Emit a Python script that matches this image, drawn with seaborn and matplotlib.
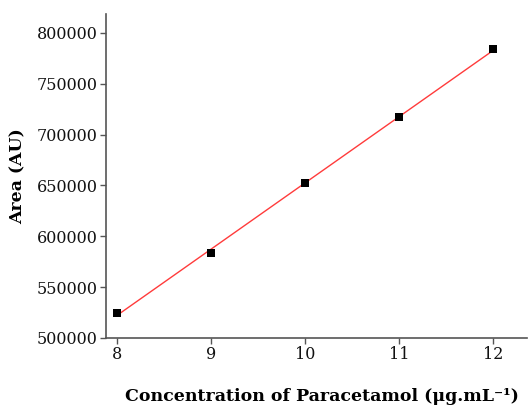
import matplotlib
matplotlib.use("Agg")
import matplotlib.pyplot as plt
import seaborn as sns
import pandas as pd

concentration = [8, 9, 10, 11, 12]
area = [525000, 584000, 652000, 717000, 784000]
x_ticks = [8, 9, 10, 11, 12]
y_ticks = [500000, 550000, 600000, 650000, 700000, 750000, 800000]

df = pd.DataFrame({"conc": concentration, "area": area})

sns.set_style("ticks")
plt.rcParams["font.family"] = ["DejaVu Serif"]
plt.rcParams["text.color"] = "black"
plt.rcParams["axes.labelcolor"] = "black"

fig = plt.figure(figsize=(5.29, 4.08), dpi=100)
ax = fig.add_axes([0.2004, 0.1716, 0.7956, 0.7941])

sns.regplot(data=df, x="conc", y="area", ax=ax, ci=None, scatter=False,
            truncate=True, line_kws={"color": "#ff3b3b", "lw": 1.0})
sns.scatterplot(data=df, x="conc", y="area", ax=ax, marker="s", s=26,
                color="black", edgecolor="black", linewidth=0, zorder=3)

ax.set_xlim(7.883, 12.36)
ax.set_ylim(500000, 818500)
ax.set_xticks(x_ticks)
ax.set_yticks(y_ticks)
ax.set_xticklabels([str(v) for v in x_ticks])
ax.set_yticklabels([str(v) for v in y_ticks])

for s in ["top", "right"]:
    ax.spines[s].set_visible(False)
for s in ["left", "bottom"]:
    ax.spines[s].set_color("#555555")
    ax.spines[s].set_linewidth(1.2)
ax.tick_params(axis="both", colors="#555555", labelcolor="#111111",
               labelsize=11.5, length=4, width=1.0, direction="out", pad=2)

ax.set_xlabel("Concentration of Paracetamol (\u03bcg.mL\u207b\u00b9)",
              fontsize=12.5, fontweight="bold", labelpad=18)
ax.xaxis.set_label_coords(0.513, -0.155)
ax.set_ylabel("Area (AU)", fontsize=12.4, fontweight="bold", labelpad=7)

fig.savefig("out.png", dpi=100)
